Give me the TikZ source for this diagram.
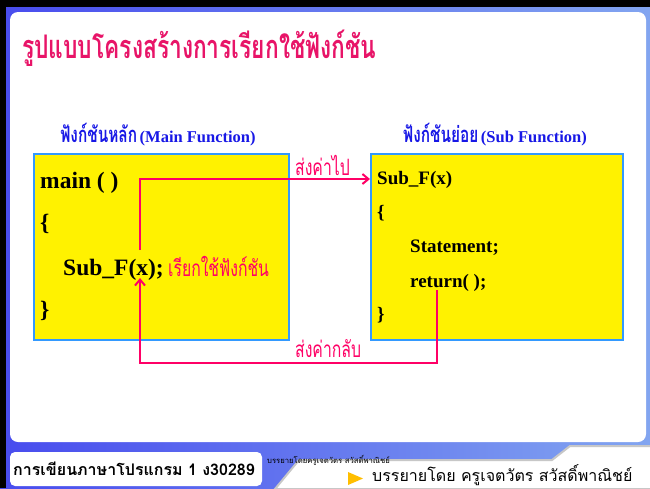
\documentclass[tikz,border=0pt]{standalone}
\usepackage{fontspec}
\setmainfont{Liberation Serif}
\newfontfamily\thaic[Script=Thai,FakeStretch=0.7]{Loma}
\newfontfamily\thai[Script=Thai]{Loma}
\usetikzlibrary{arrows.meta}
\definecolor{titlepink}{RGB}{232,20,104}
\definecolor{arrowpink}{RGB}{255,0,102}
\definecolor{headblue}{RGB}{24,24,230}
\definecolor{boxblue}{RGB}{51,153,255}
\definecolor{frameblue}{RGB}{72,76,238}
\definecolor{framelight}{RGB}{130,165,240}
\definecolor{goldtri}{RGB}{255,190,0}
\tikzset{
  lbl/.style={inner sep=0pt, anchor=base west},
  codebig/.style={lbl, font=\fontsize{23.5}{26}\selectfont\bfseries},
  codesmall/.style={lbl, font=\fontsize{19}{22}\selectfont\bfseries},
  fnbox/.style={draw=boxblue, line width=2pt, fill=yellow, inner sep=0pt, anchor=north west},
  link/.style={draw=arrowpink, line width=2.5pt},
  linktip/.style={-{Straight Barb[length=6pt,width=10pt,line width=2pt]}},
  pinklbl/.style={lbl, text=arrowpink, font=\thaic\fontsize{22.5}{25}\selectfont},
  headlbl/.style={inner sep=0pt, anchor=base, text=headblue},
}
\begin{document}
\begin{tikzpicture}[x=1pt,y=-1pt]
\useasboundingbox (0,0) rectangle (650,488);
% background frame
\shade[left color=frameblue, right color=framelight] (0,0) rectangle (650,488);
\fill[black] (0,0) rectangle (650,7);
\fill[black] (0,0) rectangle (6,488);
\fill[white, rounded corners=8pt] (10,12) rectangle (646,442);
\fill[white, rounded corners=5pt] (10,452) rectangle (262,486);
\filldraw[fill=white, draw=black!22, line width=2pt] (275,489) -- (299,460) -- (552,460) -- (570,446) -- (651,446) -- (651,489) -- cycle;
\fill[goldtri] (348,472) -- (363,478.5) -- (348,485) -- cycle;
% footer texts
\node[lbl, font=\thai\bfseries\fontsize{16}{18}\selectfont] (course) at (13,475) {การเขียนภาษาโปรแกรม 1 ง30289};
\node[lbl, font=\thai\fontsize{7.7}{9}\selectfont] (tiny) at (267,463) {บรรยายโดยครูเจตวัตร สวัสดิ์พาณิชย์};
\node[lbl, font=\thai\fontsize{16}{18}\selectfont] (lecturer) at (372,481) {บรรยายโดย ครูเจตวัตร สวัสดิ์พาณิชย์};
% title
\node[lbl, text=titlepink, font=\thaic\bfseries\fontsize{32.5}{35}\selectfont] (title) at (22,58) {รูปแบบโครงสร้างการเรียกใช้ฟังก์ชัน};
% headers
\node[headlbl] (mainhead) at (158,142) {{\thaic\bfseries\fontsize{22}{24}\selectfont ฟังก์ชันหลัก} {\bfseries\fontsize{16.5}{19}\selectfont (Main Function)}};
\node[headlbl] (subhead) at (495,142) {{\thaic\bfseries\fontsize{22}{24}\selectfont ฟังก์ชันย่อย} {\bfseries\fontsize{16.5}{19}\selectfont (Sub Function)}};
% boxes
\node[fnbox, minimum width=255pt, minimum height=186pt] (mainbox) at (33,153) {};
\node[fnbox, minimum width=252pt, minimum height=186pt] (subbox) at (370,153) {};
% main code
\node[codebig] (mainline) at (40,188) {main ( )};
\node[codebig] (mainopen) at (40,230) {\{};
\node[codebig] (callline) at (63,275) {Sub\_F(x);};
\node[pinklbl] (calllbl) at (168,276) {เรียกใช้ฟังก์ชัน};
\node[codebig] (mainclose) at (40,317) {\}};
% sub code
\node[codesmall] (subline) at (377,184) {Sub\_F(x)};
\node[codesmall] (subopen) at (377,218) {\{};
\node[codesmall] (stmt) at (410,252) {Statement;};
\node[codesmall] (retline) at (410,287) {return( );};
\node[codesmall] (subclose) at (377,320) {\}};
% arrows
\coordinate (callstart) at (140,250);
\coordinate (gocorner) at (140,179);
\draw[link, linktip] (callstart) -- (gocorner) -- (gocorner -| subbox.west);
\node[pinklbl] (golbl) at (295,175) {ส่งค่าไป};
\coordinate (retstart) at (437,290);
\coordinate (retcorner) at (437,363);
\coordinate (backcorner) at (140,363);
\coordinate (callend) at (140,278);
\draw[link, linktip] (retstart) -- (retcorner) -- (backcorner) -- (callend);
\node[pinklbl] (backlbl) at (295,357) {ส่งค่ากลับ};
\end{tikzpicture}
\end{document}
